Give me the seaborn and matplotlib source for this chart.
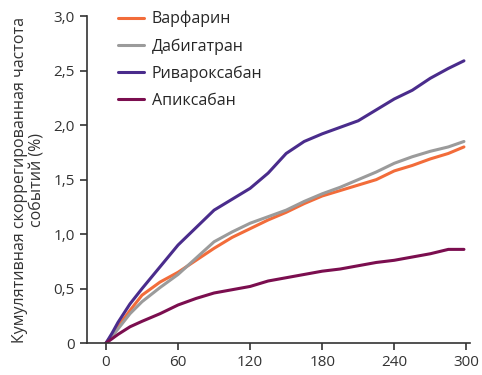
import pandas as pd
import matplotlib.pyplot as plt
import seaborn as sns

# values (days, cumulative %)
days = [0, 5, 10, 20, 30, 45, 60, 75, 90, 105, 120, 135, 150, 165, 180, 195, 210, 225, 240, 255, 270, 285, 298]
warfarin = [0, 0.07, 0.15, 0.30, 0.44, 0.56, 0.65, 0.76, 0.87, 0.97, 1.05, 1.13, 1.20, 1.28, 1.35, 1.40, 1.45, 1.50, 1.58, 1.63, 1.69, 1.74, 1.80]
dabigatran = [0, 0.06, 0.13, 0.27, 0.38, 0.51, 0.63, 0.78, 0.93, 1.02, 1.10, 1.16, 1.22, 1.30, 1.37, 1.43, 1.50, 1.57, 1.65, 1.71, 1.76, 1.80, 1.85]
rivaroxaban = [0, 0.09, 0.19, 0.36, 0.50, 0.70, 0.90, 1.06, 1.22, 1.32, 1.42, 1.56, 1.74, 1.85, 1.92, 1.98, 2.04, 2.14, 2.24, 2.32, 2.43, 2.52, 2.59]
apixaban = [0, 0.04, 0.08, 0.15, 0.20, 0.27, 0.35, 0.41, 0.46, 0.49, 0.52, 0.57, 0.60, 0.63, 0.66, 0.68, 0.71, 0.74, 0.76, 0.79, 0.82, 0.86, 0.86]

names = ['Варфарин', 'Дабигатран', 'Ривароксабан', 'Апиксабан']
colors = ['#F26C3A', '#9B9B9B', '#4A2C8C', '#7B0E4F']

df = pd.concat([
    pd.DataFrame({'day': days, 'rate': vals, 'drug': name})
    for name, vals in zip(names, [warfarin, dabigatran, rivaroxaban, apixaban])
])

sns.set_style('ticks')
plt.rcParams['font.family'] = ['Open Sans', 'DejaVu Sans']

fig = plt.figure(figsize=(4.82, 3.75), dpi=100)
ax = fig.add_axes([0.18, 0.085, 0.795, 0.872])

sns.lineplot(data=df, x='day', y='rate', hue='drug', hue_order=names,
             palette=dict(zip(names, colors)), linewidth=2.2, ax=ax)

ax.set_xlim(-16, 303)
ax.set_ylim(0, 3.0)
ax.set_xticks([0, 60, 120, 180, 240, 300])
ax.set_yticks([0, 0.5, 1.0, 1.5, 2.0, 2.5, 3.0])
ax.set_yticklabels(['0', '0,5', '1,0', '1,5', '2,0', '2,5', '3,0'])
ax.set_xlabel('')
ax.set_ylabel('Кумулятивная скоррегированная частота\nсобытий (%)', fontsize=11.5,
              color='#333333', linespacing=1.1, labelpad=6)

for s in ['top', 'right']:
    ax.spines[s].set_visible(False)
for s in ['left', 'bottom']:
    ax.spines[s].set_color('#333333')
    ax.spines[s].set_linewidth(1.2)
ax.tick_params(colors='#333333', labelsize=11, length=5, width=1.2)

leg = ax.legend(loc='upper left', bbox_to_anchor=(0.045, 1.06), frameon=False,
                fontsize=11.5, handlelength=1.6, handletextpad=0.5, labelspacing=0.68)
for line in leg.get_lines():
    line.set_linewidth(2.2)

fig.savefig('out.png', dpi=100)
